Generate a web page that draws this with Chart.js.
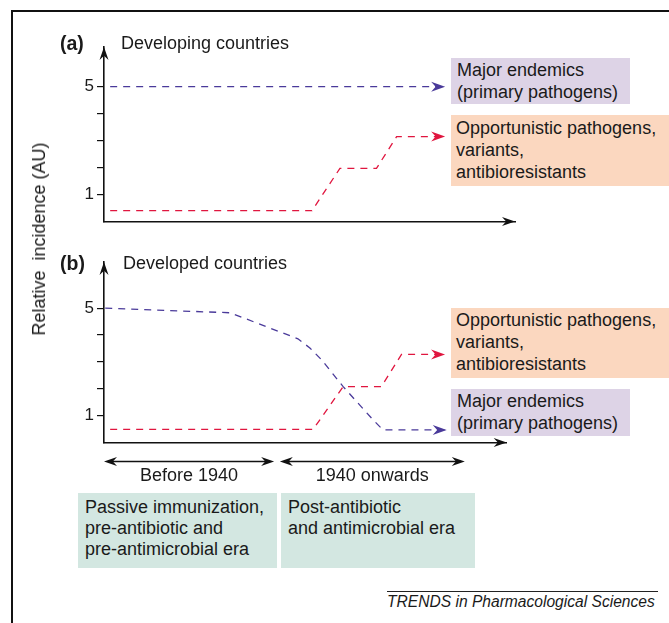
<!DOCTYPE html>
<html>
<head>
<meta charset="utf-8">
<script src="https://cdn.jsdelivr.net/npm/chart.js@4"></script>
<style>
  html, body { margin: 0; padding: 0; background: #fff; }
  #wrap { position: relative; width: 669px; height: 623px; overflow: hidden; background: #fff;
          font-family: "Liberation Sans", Arial, Helvetica, sans-serif; color: #1a1a1a; }
  canvas { position: absolute; left: 0; }
  .t { position: absolute; white-space: nowrap; font-size: 18px; line-height: 22px; }
  .box { position: absolute; font-size: 18px; line-height: 22px; box-sizing: border-box; white-space: nowrap; }
  .purple { background: #ddd3e6; }
  .orange { background: #fbd7bf; }
  .teal { background: #d3e7e1; line-height: 21px; }
  #frame { position: absolute; left: 11px; top: 10px; width: 670px; height: 630px;
           border-left: 2px solid #111; border-top: 2px solid #111; }
</style>
</head>
<body>
<div id="wrap">
  <div id="frame"></div>
  <canvas id="cA" width="669" height="240" style="top:0"></canvas>
  <canvas id="cB" width="669" height="250" style="top:240px"></canvas>

  <div class="t" style="left:60px; top:32px; font-weight:bold; font-size:19.5px;">(a)</div>
  <div class="t" style="left:121px; top:32px;">Developing countries</div>
  <div class="t" style="left:60px; top:252px; font-weight:bold; font-size:19.5px;">(b)</div>
  <div class="t" style="left:123px; top:252px;">Developed countries</div>

  <div class="t" style="left:39px; top:239px; transform: translate(-50%,-50%) rotate(-90deg);">Relative&nbsp; incidence (AU)</div>

  <div class="box purple" style="left:451px; top:58px; width:179px; height:46px; padding:1px 0 0 6px;">Major endemics<br>(primary pathogens)</div>
  <div class="box orange" style="left:451px; top:115px; width:218px; height:71px; padding:2px 0 0 5px;">Opportunistic pathogens,<br>variants,<br>antibioresistants</div>
  <div class="box orange" style="left:451px; top:308px; width:218px; height:70px; padding:1px 0 0 5px;">Opportunistic pathogens,<br>variants,<br>antibioresistants</div>
  <div class="box purple" style="left:451px; top:389px; width:179px; height:47px; padding:1px 0 0 6px;">Major endemics<br>(primary pathogens)</div>

  <div class="t" id="era0" style="top:464px;"></div>
  <div class="t" id="era1" style="top:464px;"></div>

  <div class="box teal" style="left:78px; top:493px; width:199px; height:75px; padding:4px 0 0 7px;">Passive immunization,<br>pre-antibiotic and<br>pre-antimicrobial era</div>
  <div class="box teal" style="left:281px; top:493px; width:194px; height:75px; padding:4px 0 0 7px;">Post-antibiotic<br>and antimicrobial era</div>

  <div style="position:absolute; left:387px; top:591px; width:271px; height:0; border-top:1px solid #222;"></div>
  <div class="t" style="left:387px; top:592px; font-size:15.6px; line-height:20px; font-style:italic;">TRENDS in Pharmacological Sciences</div>
</div>

<script>
// ---- data ----
const yTicks = [1, 2, 3, 4, 5];
const yTickLabels = ['1', '', '', '', '5'];

const panelA_majorX = [1.5, 83.0];
const panelA_majorY = [5.0, 5.0];
const panelA_oppX = [1.5, 50.6, 57.4, 66.3, 71.2, 83.0];
const panelA_oppY = [0.4, 0.4, 1.97, 1.97, 3.15, 3.15];

const panelB_majorX = [0.3, 30.7, 47.2, 50.1, 53.0, 58.2, 65.5, 67.9, 83.4];
const panelB_majorY = [5.0, 4.83, 3.86, 3.52, 3.07, 2.08, 0.84, 0.47, 0.47];
const panelB_oppX = [1.5, 50.9, 58.2, 67.5, 72.4, 83.0];
const panelB_oppY = [0.49, 0.49, 2.08, 2.08, 3.28, 3.28];

const eraStart = [0, 42.8];
const eraEnd = [41.4, 87.8];
const eraLabels = ['Before 1940', '1940 onwards'];

// ---- styling ----
const BLUE = '#4a3a9a';
const RED = '#e0163f';
const FONT = '"Liberation Sans", Arial, Helvetica, sans-serif';
Chart.defaults.font.family = FONT;

function pts(xs, ys) { return xs.map((x, i) => ({ x: x, y: ys[i] })); }

function arrowHead(ctx, x, y, angle, len, wid, color) {
  ctx.save();
  ctx.translate(x, y);
  ctx.rotate(angle);
  ctx.beginPath();
  ctx.moveTo(0, 0);
  ctx.lineTo(-len, -wid / 2);
  ctx.lineTo(-len * 0.68, 0);
  ctx.lineTo(-len, wid / 2);
  ctx.closePath();
  ctx.fillStyle = color;
  ctx.fill();
  ctx.restore();
}

const arrowPlugin = {
  id: 'arrows',
  afterDatasetsDraw(chart) {
    const ctx = chart.ctx;
    chart.data.datasets.forEach((ds, i) => {
      const els = chart.getDatasetMeta(i).data;
      const a = els[els.length - 2], b = els[els.length - 1];
      const ang = Math.atan2(b.y - a.y, b.x - a.x);
      arrowHead(ctx, b.x, b.y, ang, 14, 10, ds.borderColor);
    });
  },
  afterDraw(chart, args, opts) {
    const ctx = chart.ctx, ca = chart.chartArea;
    arrowHead(ctx, ca.left, ca.top, -Math.PI / 2, 13, 9, '#111');
    arrowHead(ctx, ca.right, ca.bottom, 0, 13, 9, '#111');
    if (opts.eras) {
      const xs = chart.scales.x;
      const y = Math.round(ca.bottom + 18) + 0.5;
      ctx.save();
      ctx.strokeStyle = '#111';
      ctx.lineWidth = 1.3;
      eraStart.forEach((s, i) => {
        const x1 = xs.getPixelForValue(s), x2 = xs.getPixelForValue(eraEnd[i]);
        ctx.beginPath(); ctx.moveTo(x1 + 4, y); ctx.lineTo(x2 - 4, y); ctx.stroke();
        arrowHead(ctx, x1, y, Math.PI, 13, 9, '#111');
        arrowHead(ctx, x2, y, 0, 13, 9, '#111');
        const lab = document.getElementById('era' + i);
        lab.textContent = eraLabels[i];
        const w = lab.getBoundingClientRect().width;
        lab.style.left = ((x1 + x2) / 2 - w / 2) + 'px';
      });
      ctx.restore();
    }
  }
};

function makeChart(id, datasets, yMax, xMax, pad, eras) {
  return new Chart(document.getElementById(id), {
    type: 'line',
    data: { datasets: datasets },
    plugins: [arrowPlugin],
    options: {
      responsive: false,
      devicePixelRatio: 1,
      animation: false,
      layout: { padding: pad },
      plugins: { legend: { display: false }, tooltip: { enabled: false }, arrows: { eras: eras } },
      elements: { point: { radius: 0 }, line: { tension: 0 } },
      scales: {
        x: {
          type: 'linear', min: 0, max: xMax,
          grid: { display: false },
          ticks: { display: false },
          border: { display: true, color: '#111', width: 1.6 },
          afterFit(s) { s.height = 0; }
        },
        y: {
          type: 'linear', min: 0, max: yMax,
          afterBuildTicks(s) { s.ticks = yTicks.map(v => ({ value: v })); },
          ticks: {
            color: '#1a1a1a', padding: 3,
            font: { size: 17, family: FONT },
            callback(v) { const k = yTicks.indexOf(v); return k >= 0 ? yTickLabels[k] : ''; }
          },
          grid: { display: true, drawOnChartArea: false, drawTicks: true, tickLength: 7, color: '#111', lineWidth: 1.2 },
          border: { display: true, color: '#111', width: 1.6 },
          afterFit(s) { s.width = 104; }
        }
      }
    }
  });
}

function ds(xs, ys, color) {
  return { data: pts(xs, ys), borderColor: color, borderWidth: 1.3, borderDash: [7, 6], fill: false, clip: false, pointRadius: 0 };
}

// Panel (a): chart area 104..515 x 47..221.5
makeChart('cA', [ds(panelA_majorX, panelA_majorY, BLUE), ds(panelA_oppX, panelA_oppY, RED)],
  6.47, 100, { top: 47, right: 154, bottom: 18.5, left: 0 }, false);

// Panel (b): chart area 104..506.7 x 262..442.5 (canvas top 240)
makeChart('cB', [ds(panelB_majorX, panelB_majorY, BLUE), ds(panelB_oppX, panelB_oppY, RED)],
  6.72, 98.0, { top: 22, right: 162.3, bottom: 47.5, left: 0 }, true);
</script>
</body>
</html>
